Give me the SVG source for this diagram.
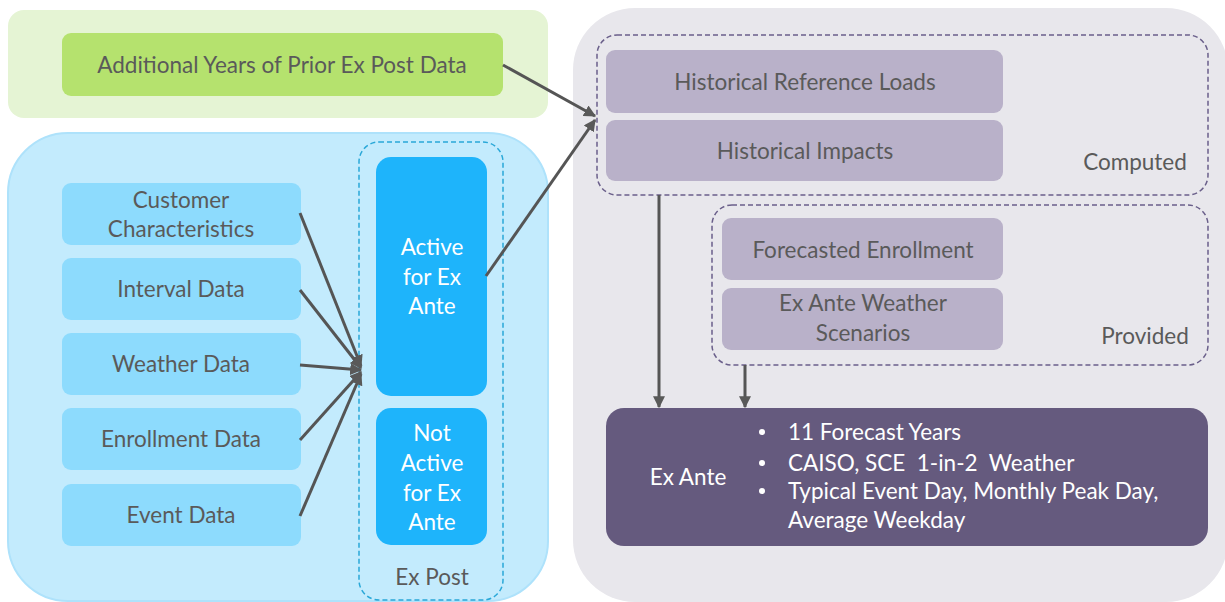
<svg xmlns="http://www.w3.org/2000/svg" width="1225" height="602" viewBox="0 0 1225 602">
<defs>
<marker id="ah" viewBox="0 0 10 10" refX="9" refY="5" markerWidth="4" markerHeight="4" orient="auto" markerUnits="strokeWidth"><path d="M0,0 L10,5 L0,10 z" fill="#595959"/></marker>
<style>
text{font-family:Lato,"Open Sans",sans-serif;font-size:22.5px;fill:#5a5a5a;text-anchor:middle}
.w{fill:#ffffff}
.lb{fill:#8ddbfd}
.pu{fill:#b9b1c9}
.c{stroke:#555;stroke-width:3;fill:none;marker-end:url(#ah)}
.dp{fill:none;stroke:#6a5f8a;stroke-width:1.5;stroke-dasharray:5 3}
</style>
</defs>
<rect width="1225" height="602" fill="#ffffff"/>
<g id="green-panel">
<rect x="8" y="10" width="540" height="108" rx="16" fill="#e5f4d4"/>
<g id="prior-data"><rect x="62" y="33" width="441" height="63" rx="9" fill="#b5e26e"/><text x="282" y="73">Additional Years of Prior Ex Post Data</text></g>
</g>
<g id="blue-panel">
<rect x="8" y="133" width="540" height="468" rx="60" fill="#c3ebfd" stroke="#aee2fb" stroke-width="2"/>
<g id="customer"><rect class="lb" x="62" y="183" width="239" height="62" rx="9"/><text x="181" y="208">Customer</text><text x="181" y="237">Characteristics</text></g>
<g id="interval"><rect class="lb" x="62" y="258" width="239" height="62" rx="9"/><text x="181" y="297">Interval Data</text></g>
<g id="weather"><rect class="lb" x="62" y="333" width="239" height="62" rx="9"/><text x="181" y="372">Weather Data</text></g>
<g id="enrollment"><rect class="lb" x="62" y="408" width="239" height="62" rx="9"/><text x="181" y="447">Enrollment Data</text></g>
<g id="event"><rect class="lb" x="62" y="484" width="239" height="62" rx="9"/><text x="181" y="523">Event Data</text></g>
<g id="expost"><rect x="359" y="142" width="144" height="458" rx="20" fill="none" stroke="#2aa8d8" stroke-width="1.5" stroke-dasharray="5 3"/><text x="432" y="585">Ex Post</text></g>
<g id="active"><rect x="376" y="157" width="111" height="239" rx="15" fill="#1eb4fb"/><text class="w" x="432" y="255">Active</text><text class="w" x="432" y="285">for Ex</text><text class="w" x="432" y="314">Ante</text></g>
<g id="notactive"><rect x="376" y="408" width="111" height="137" rx="15" fill="#1eb4fb"/><text class="w" x="432" y="441">Not</text><text class="w" x="432" y="471">Active</text><text class="w" x="432" y="501">for Ex</text><text class="w" x="432" y="530">Ante</text></g>
</g>
<g id="gray-panel">
<rect x="573" y="8" width="655" height="594" rx="62" fill="#e8e7ec"/>
<g id="computed"><rect class="dp" x="597" y="35" width="611" height="160" rx="20"/><text x="1135" y="170">Computed</text></g>
<g id="hist-ref"><rect class="pu" x="606" y="50" width="397" height="63" rx="9"/><text x="805" y="90">Historical Reference Loads</text></g>
<g id="hist-imp"><rect class="pu" x="606" y="120" width="397" height="61" rx="9"/><text x="805" y="159">Historical Impacts</text></g>
<g id="provided"><rect class="dp" x="712" y="205" width="496" height="160" rx="20"/><text x="1145" y="344">Provided</text></g>
<g id="forecast-enr"><rect class="pu" x="722" y="218" width="281" height="62" rx="9"/><text x="863" y="258">Forecasted Enrollment</text></g>
<g id="exante-weather"><rect class="pu" x="722" y="288" width="281" height="62" rx="9"/><text x="863" y="311">Ex Ante Weather</text><text x="863" y="341">Scenarios</text></g>
<g id="exante"><rect x="606" y="408" width="602" height="138" rx="18" fill="#655a7e"/>
<text class="w" x="688" y="485">Ex Ante</text>
<g><circle cx="762" cy="432" r="3" fill="#fff"/><circle cx="762" cy="463" r="3" fill="#fff"/><circle cx="762" cy="491" r="3" fill="#fff"/></g>
<text class="w" x="788" y="440" style="text-anchor:start">11 Forecast Years</text>
<text class="w" x="788" y="471" style="text-anchor:start;white-space:pre" xml:space="preserve">CAISO, SCE  1-in-2  Weather</text>
<text class="w" x="788" y="499" style="text-anchor:start">Typical Event Day, Monthly Peak Day,</text>
<text class="w" x="788" y="528" style="text-anchor:start">Average Weekday</text>
</g>
</g>
<g id="connectors">
<line class="c" x1="300" y1="213" x2="361" y2="366"/>
<line class="c" x1="300" y1="290" x2="361" y2="368"/>
<line class="c" x1="300" y1="365" x2="361" y2="370"/>
<line class="c" x1="300" y1="440" x2="361" y2="372"/>
<line class="c" x1="300" y1="516" x2="361" y2="374"/>
<line class="c" x1="503" y1="65" x2="595" y2="116"/>
<line class="c" x1="486" y1="276" x2="595" y2="120"/>
<line class="c" x1="659" y1="195" x2="659" y2="407"/>
<line class="c" x1="745" y1="365" x2="745" y2="407"/>
</g>
</svg>
